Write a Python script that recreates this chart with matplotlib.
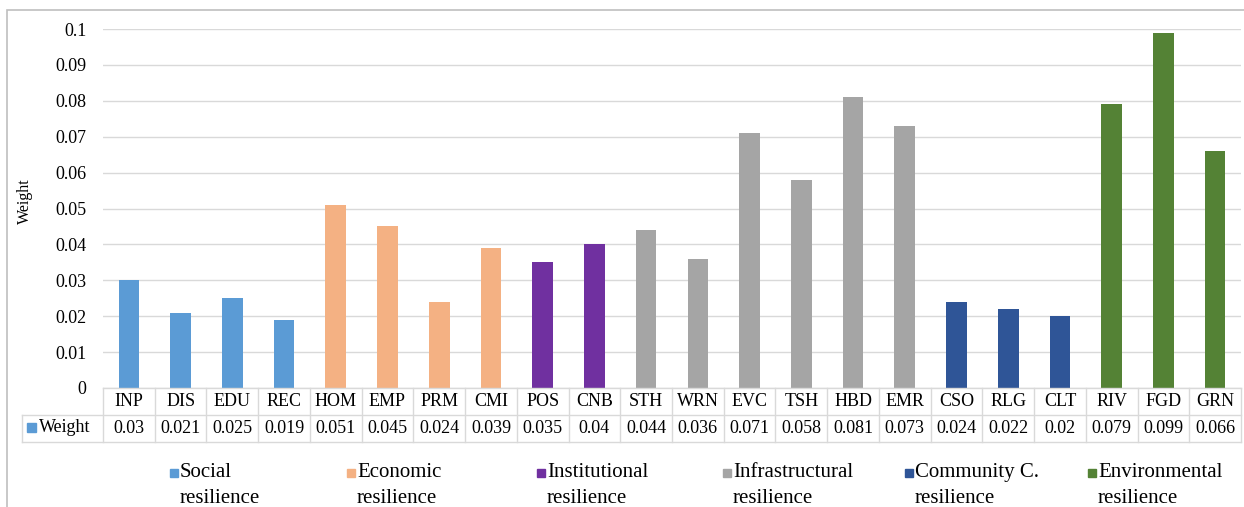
import numpy as np
import matplotlib
matplotlib.use("Agg")
import matplotlib.pyplot as plt
from matplotlib.patches import Rectangle


CATEGORIES = ["INP", "DIS", "EDU", "REC", "HOM", "EMP", "PRM", "CMI", "POS", "CNB",
              "STH", "WRN", "EVC", "TSH", "HBD", "EMR", "CSO", "RLG", "CLT", "RIV",
              "FGD", "GRN"]
WEIGHTS = [0.03, 0.021, 0.025, 0.019, 0.051, 0.045, 0.024, 0.039, 0.035, 0.04,
           0.044, 0.036, 0.071, 0.058, 0.081, 0.073, 0.024, 0.022, 0.02, 0.079,
           0.099, 0.066]
GROUPS = ["Social", "Social", "Social", "Social",
          "Economic", "Economic", "Economic", "Economic",
          "Institutional", "Institutional",
          "Infrastructural", "Infrastructural", "Infrastructural",
          "Infrastructural", "Infrastructural", "Infrastructural",
          "Community C.", "Community C.", "Community C.",
          "Environmental", "Environmental", "Environmental"]
GROUP_NAMES = ["Social", "Economic", "Institutional", "Infrastructural",
               "Community C.", "Environmental"]
Y_TICKS = [0, 0.01, 0.02, 0.03, 0.04, 0.05, 0.06, 0.07, 0.08, 0.09, 0.1]

COLORS = {
    "Social": "#5B9BD5",
    "Economic": "#F4B183",
    "Institutional": "#7030A0",
    "Infrastructural": "#A5A5A5",
    "Community C.": "#2F5597",
    "Environmental": "#548235",
}

plt.rcParams["font.family"] = ["Liberation Serif", "DejaVu Serif"]

W, H = 1244, 507


def fx(px):
    return px / W


def fy(py):
    return 1 - py / H


fig = plt.figure(figsize=(W / 100, H / 100), dpi=100)

# outer chart border (right and bottom edges fall outside the picture)
fig.patches.append(Rectangle((fx(7), fy(520)), fx(1260) - fx(7), fy(10) - fy(520),
                             transform=fig.transFigure, fill=False,
                             edgecolor="#BFBFBF", lw=1.2))

left, right = 103, 1241
ax = fig.add_axes([fx(left), fy(388), fx(right) - fx(left), fy(29) - fy(388)])
n = len(CATEGORIES)
x = np.arange(n)
bar_colors = [COLORS[g] for g in GROUPS]
ax.bar(x, WEIGHTS, width=0.4, color=bar_colors, zorder=3)
ax.set_xlim(-0.5, n - 0.5)
ax.set_ylim(0, 0.1)
ax.set_yticks(Y_TICKS)
ax.set_yticklabels([f"{v:g}" for v in Y_TICKS], fontsize=13)
ax.tick_params(axis="y", length=0, pad=12)
ax.set_xticks([])
ax.yaxis.grid(True, color="#D9D9D9", lw=1)
for s in ax.spines.values():
    s.set_visible(False)
fig.text(fx(25), fy(201), "Weight", rotation=90, ha="center", va="center", fontsize=11.5)

# data table below the axis
tax = fig.add_axes([fx(left), fy(442), fx(right) - fx(left), fy(388) - fy(442)], sharex=ax)
tax.set_ylim(0, 2)
tax.axis("off")
colw = (right - left) / n
head_left = -0.5 - (left - 22) / colw
line_kw = dict(color="#D9D9D9", lw=1, clip_on=False)
tax.plot([-0.5, n - 0.5], [2, 2], **line_kw)
tax.plot([head_left, n - 0.5], [1, 1], **line_kw)
tax.plot([head_left, n - 0.5], [0, 0], **line_kw)
tax.plot([head_left, head_left], [0, 1], **line_kw)
for k in range(n + 1):
    tax.plot([k - 0.5, k - 0.5], [0, 2], **line_kw)
for i, (cat, val) in enumerate(zip(CATEGORIES, WEIGHTS)):
    tax.text(i, 1.5, cat, ha="center", va="center", fontsize=13, clip_on=False)
    tax.text(i, 0.5, f"{val:g}", ha="center", va="center", fontsize=13, clip_on=False)

fig.patches.append(Rectangle((fx(27), fy(432)), fx(9), 9 / H,
                             transform=fig.transFigure, color=COLORS["Social"]))
fig.text(fx(39), fy(428), "Weight", ha="left", va="center", fontsize=13)

# legend row
legend_x = [170, 347, 537, 723, 905, 1088]
for name, x0 in zip(GROUP_NAMES, legend_x):
    fig.patches.append(Rectangle((fx(x0), fy(477)), fx(8), 8 / H,
                                 transform=fig.transFigure, color=COLORS[name]))
    fig.text(fx(x0 + 10), fy(477), name, ha="left", va="baseline", fontsize=15)
    fig.text(fx(x0 + 10), fy(503), "resilience", ha="left", va="baseline", fontsize=15)

fig.savefig("out.png", dpi=100)
